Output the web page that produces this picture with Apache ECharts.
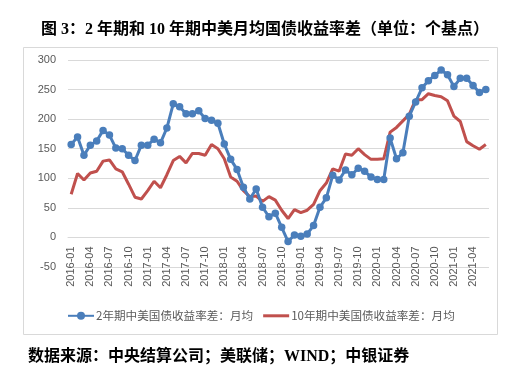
<!DOCTYPE html>
<html>
<head>
<meta charset="utf-8">
<title>中美国债收益率差</title>
<script src="https://cdn.jsdelivr.net/npm/echarts@6/dist/echarts.min.js"></script>
<style>
  html, body { margin: 0; padding: 0; background: #ffffff; }
  #chart { width: 529px; height: 377px; }
</style>
</head>
<body>
<div id="chart"></div>
<script>
// 月份（2016-01 ~ 2021-06）
const months = [
  "2016-01", "2016-02", "2016-03", "2016-04", "2016-05", "2016-06",
  "2016-07", "2016-08", "2016-09", "2016-10", "2016-11", "2016-12",
  "2017-01", "2017-02", "2017-03", "2017-04", "2017-05", "2017-06",
  "2017-07", "2017-08", "2017-09", "2017-10", "2017-11", "2017-12",
  "2018-01", "2018-02", "2018-03", "2018-04", "2018-05", "2018-06",
  "2018-07", "2018-08", "2018-09", "2018-10", "2018-11", "2018-12",
  "2019-01", "2019-02", "2019-03", "2019-04", "2019-05", "2019-06",
  "2019-07", "2019-08", "2019-09", "2019-10", "2019-11", "2019-12",
  "2020-01", "2020-02", "2020-03", "2020-04", "2020-05", "2020-06",
  "2020-07", "2020-08", "2020-09", "2020-10", "2020-11", "2020-12",
  "2021-01", "2021-02", "2021-03", "2021-04", "2021-05", "2021-06",
];
// 2年期中美国债收益率差：月均（个基点）
const spread2y = [
  157, 170, 139, 156, 163, 181, 173, 151, 150, 139, 130, 156,
  156, 166, 160, 185, 226, 221, 209, 209, 214, 201, 198, 193,
  158, 132, 115, 85, 65, 82, 51, 35, 41, 17, -7, 4,
  2, 6, 20, 51, 67, 105, 97, 114, 106, 117, 112, 102,
  98, 98, 168, 133, 143, 205, 229, 253, 265, 274, 283, 275,
  255, 269, 269, 257, 245, 250,
];
// 10年期中美国债收益率差：月均（个基点）
const spread10y = [
  73, 108, 97, 109, 112, 129, 131, 116, 111, 90, 68, 65,
  79, 95, 84, 106, 130, 137, 126, 142, 142, 139, 157, 150,
  133, 102, 95, 79, 69, 70, 61, 69, 63, 46, 32, 47,
  42, 46, 56, 79, 92, 116, 112, 141, 139, 150, 140, 132,
  132, 133, 178, 186, 197, 208, 233, 233, 243, 240, 238, 231,
  205, 196, 162, 155, 149, 157,
];
const seriesNames = ["2年期中美国债收益率差：月均", "10年期中美国债收益率差：月均"];
const titleText = "图 3：2 年期和 10 年期中美月均国债收益率差（单位：个基点）";
const sourceText = "数据来源：中央结算公司；美联储；WIND；中银证券";

const chart = echarts.init(document.getElementById("chart"));
const labelColor = "#595959";
const gridColor = "#d9d9d9";
const blue = "#4a7ebb";
const red = "#c0504d";
const cjkSerif = "'Liberation Serif', 'Noto Sans CJK SC', serif";

const option = {
  backgroundColor: "#ffffff",
  animation: false,
  title: {
    text: titleText,
    left: 36,
    top: 17,
    textStyle: {
      fontFamily: cjkSerif,
      fontSize: 16,
      fontWeight: "bold",
      color: "#000000",
    },
  },
  graphic: [
    // 图表外框
    {
      type: "rect",
      shape: { x: 23.5, y: 47.5, width: 474, height: 287 },
      style: { fill: "none", stroke: gridColor, lineWidth: 1 },
      silent: true,
    },
    // 数据来源
    {
      type: "text",
      left: 28,
      top: 349,
      style: {
        text: sourceText,
        font: "bold 16px " + cjkSerif,
        fill: "#000000",
      },
    },
  ],
  legend: {
    left: 62,
    top: 305,
    itemWidth: 26,
    itemHeight: 10,
    itemGap: 10,
    textStyle: {
      color: labelColor,
      fontSize: 11.6,
      fontFamily: "'Noto Sans CJK SC', sans-serif",
      padding: [0, 0, 0, -3],
    },
    data: [
      seriesNames[0],
      // 10年期只有线，没有圆点
      { name: seriesNames[1], icon: "path://M0,0L26,0L26,3L0,3Z" },
    ],
  },
  grid: {
    left: 68,
    right: 40,
    top: 60,
    bottom: 110,
  },
  xAxis: {
    type: "category",
    data: months,
    boundaryGap: true,
    // 坐标轴放在0刻度处（-50格线上方一格）
    offset: -29.6,
    axisLine: {
      onZero: false,
      lineStyle: { color: gridColor },
    },
    axisTick: {
      interval: 2,
      length: 4,
      lineStyle: { color: gridColor },
    },
    axisLabel: {
      interval: 2,
      rotate: 90,
      margin: 9,
      color: labelColor,
      fontSize: 11,
      fontFamily: "'Liberation Sans', sans-serif",
    },
  },
  yAxis: {
    type: "value",
    min: -50,
    max: 300,
    interval: 50,
    axisLine: { show: false },
    axisTick: { show: false },
    axisLabel: {
      margin: 12,
      color: labelColor,
      fontSize: 11,
      fontFamily: "'Liberation Sans', sans-serif",
    },
    splitLine: {
      show: true,
      lineStyle: { color: gridColor },
    },
  },
  series: [
    {
      name: seriesNames[0],
      type: "line",
      data: spread2y,
      symbol: "circle",
      symbolSize: 7.5,
      showAllSymbol: true,
      color: blue,
      lineStyle: { width: 3 },
      z: 3,
    },
    {
      name: seriesNames[1],
      type: "line",
      data: spread10y,
      symbol: "none",
      color: red,
      lineStyle: { width: 3 },
      z: 2,
    },
  ],
};

chart.setOption(option);
</script>
</body>
</html>
